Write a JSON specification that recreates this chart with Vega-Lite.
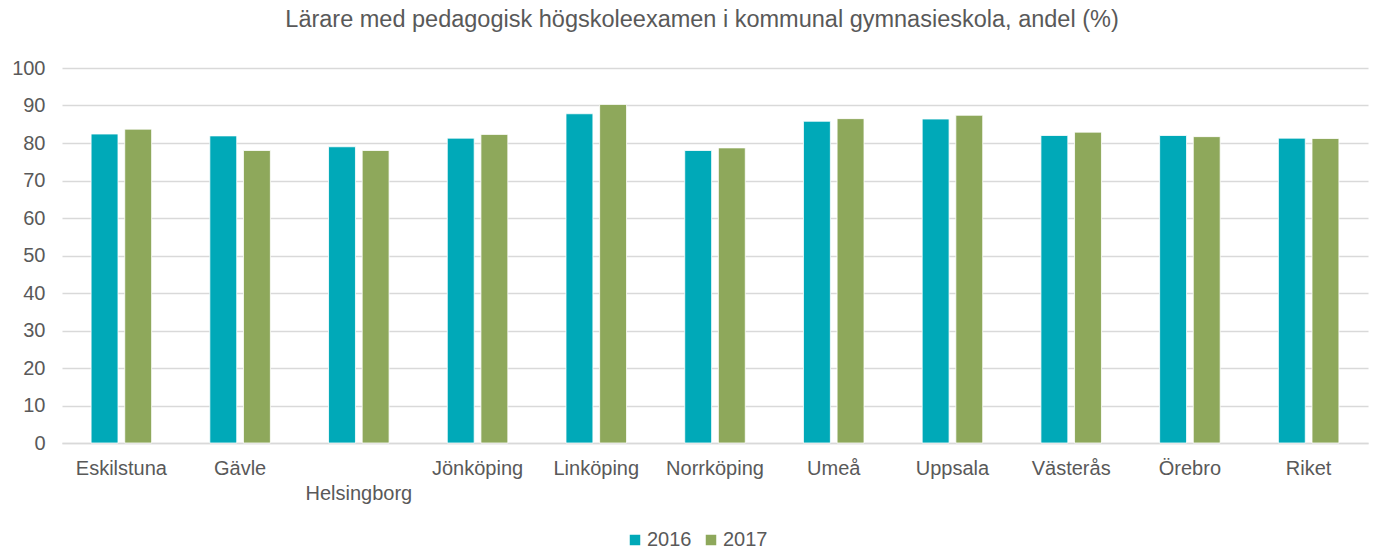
{
  "$schema": "https://vega.github.io/schema/vega-lite/v6.json",
  "width": 1306,
  "height": 375,
  "autosize": "none",
  "padding": {"left": 62, "top": 68, "right": 6, "bottom": 108},
  "background": "white",
  "title": {
    "text": "Lärare med pedagogisk högskoleexamen i kommunal gymnasieskola, andel (%)",
    "font": "Liberation Sans",
    "fontSize": 23.5,
    "fontWeight": "normal",
    "color": "#595959",
    "offset": 27,
    "dx": -13
  },
  "data": {
    "values": [
      {"kommun": "Eskilstuna", "year": "2016", "value": 82.4},
      {"kommun": "Eskilstuna", "year": "2017", "value": 83.7},
      {"kommun": "Gävle", "year": "2016", "value": 81.9},
      {"kommun": "Gävle", "year": "2017", "value": 78.0},
      {"kommun": "Helsingborg", "year": "2016", "value": 79.0},
      {"kommun": "Helsingborg", "year": "2017", "value": 78.0},
      {"kommun": "Jönköping", "year": "2016", "value": 81.3},
      {"kommun": "Jönköping", "year": "2017", "value": 82.3},
      {"kommun": "Linköping", "year": "2016", "value": 87.8},
      {"kommun": "Linköping", "year": "2017", "value": 90.3},
      {"kommun": "Norrköping", "year": "2016", "value": 78.0},
      {"kommun": "Norrköping", "year": "2017", "value": 78.7},
      {"kommun": "Umeå", "year": "2016", "value": 85.8},
      {"kommun": "Umeå", "year": "2017", "value": 86.5},
      {"kommun": "Uppsala", "year": "2016", "value": 86.4},
      {"kommun": "Uppsala", "year": "2017", "value": 87.4},
      {"kommun": "Västerås", "year": "2016", "value": 82.0},
      {"kommun": "Västerås", "year": "2017", "value": 82.9},
      {"kommun": "Örebro", "year": "2016", "value": 82.0},
      {"kommun": "Örebro", "year": "2017", "value": 81.7},
      {"kommun": "Riket", "year": "2016", "value": 81.3},
      {"kommun": "Riket", "year": "2017", "value": 81.2}
    ]
  },
  "mark": {"type": "bar", "stroke": "white", "strokeWidth": 0.8},
  "encoding": {
    "x": {
      "field": "kommun",
      "type": "nominal",
      "sort": null,
      "scale": {"paddingInner": 0.49, "paddingOuter": 0.245},
      "axis": {
        "title": null,
        "labelAngle": 0,
        "domain": true,
        "domainColor": "#d9d9d9",
        "domainWidth": 1.5,
        "ticks": false,
        "labelFont": "Liberation Sans",
        "labelFontSize": 20,
        "labelColor": "#595959",
        "labelPadding": 15,
        "labelBaseline": "top",
        "labelLineHeight": 25,
        "labelExpr": "datum.value == 'Helsingborg' ? ['', 'Helsingborg'] : datum.value"
      }
    },
    "xOffset": {"field": "year", "type": "nominal", "scale": {"paddingInner": 0.2}},
    "y": {
      "field": "value",
      "type": "quantitative",
      "scale": {"domain": [0, 100]},
      "axis": {
        "title": null,
        "values": [0, 10, 20, 30, 40, 50, 60, 70, 80, 90, 100],
        "grid": true,
        "gridColor": "#d9d9d9",
        "gridWidth": 1.5,
        "domain": false,
        "ticks": false,
        "labelPadding": 17,
        "labelFont": "Liberation Sans",
        "labelFontSize": 20,
        "labelColor": "#595959"
      }
    },
    "color": {
      "field": "year",
      "type": "nominal",
      "scale": {"domain": ["2016", "2017"], "range": ["#00A9B8", "#8EA85B"]},
      "legend": {
        "orient": "none",
        "legendX": 563,
        "legendY": 462,
        "direction": "horizontal",
        "title": null,
        "symbolType": "square",
        "symbolSize": 110,
        "symbolStrokeWidth": 0,
        "labelFont": "Liberation Sans",
        "labelFontSize": 20,
        "labelColor": "#595959",
        "labelOffset": 2,
        "columnPadding": 9
      }
    }
  },
  "config": {"view": {"stroke": null}}
}
